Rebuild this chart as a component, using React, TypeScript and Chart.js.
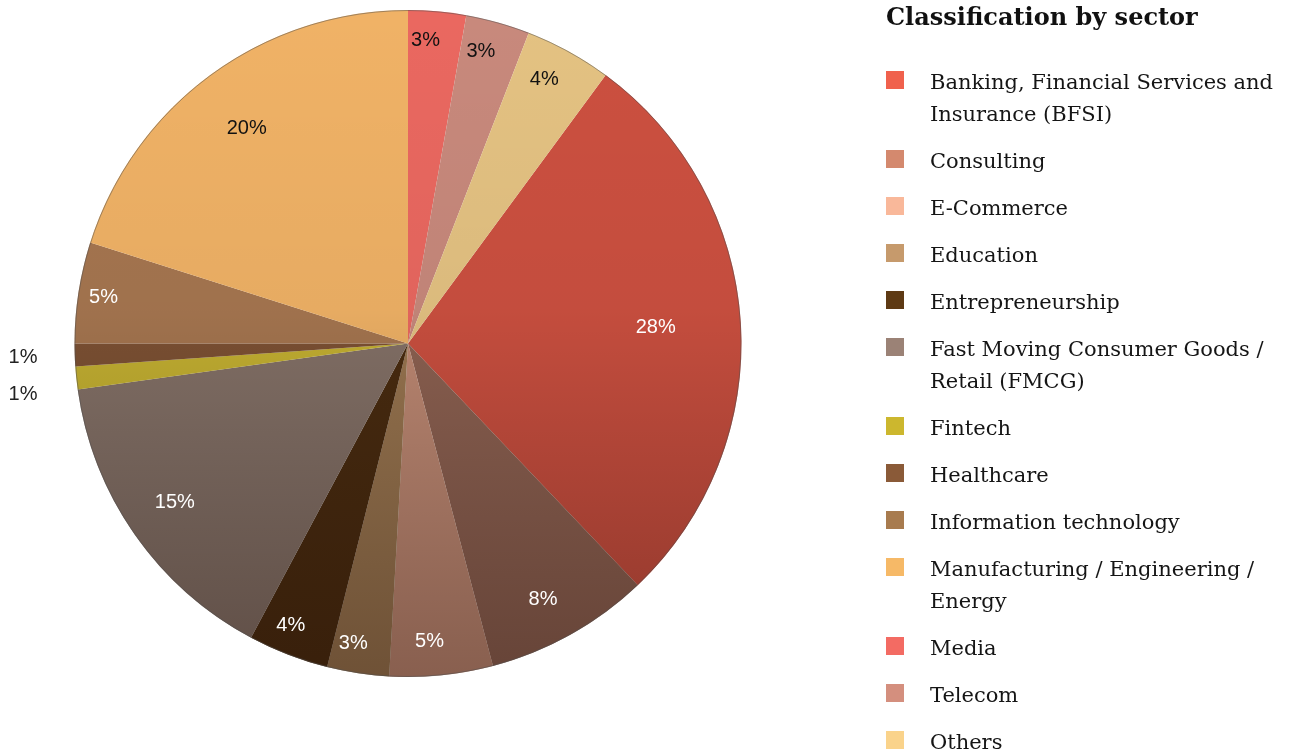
import React, { useEffect, useRef } from "react";
import { Chart, registerables } from "chart.js";

Chart.register(...registerables);

const legendTitle = "Classification by sector";

const sectors = [
  "Banking, Financial Services and Insurance (BFSI)",
  "Consulting",
  "E-Commerce",
  "Education",
  "Entrepreneurship",
  "Fast Moving Consumer Goods / Retail (FMCG)",
  "Fintech",
  "Healthcare",
  "Information technology",
  "Manufacturing / Engineering / Energy",
  "Media",
  "Telecom",
  "Others",
];

// share of respondents, %
const shares = [27.8, 8.0, 5.0, 3.0, 3.9, 15.0, 1.1, 1.1, 4.9, 20.1, 2.8, 3.1, 4.2];

// sectors drawn before BFSI when going clockwise from 12 o'clock
const leadingSectors = ["Media", "Telecom", "Others"];

const legendColors = [
  "#f0614d", "#d4896e", "#f9b89a", "#c69a6c", "#5e3a14", "#9b8276", "#ccb72e",
  "#8a5a38", "#a87b4e", "#f6b967", "#f36b63", "#d48f7e", "#fad38b",
];

const sliceColors = [
  "#cc5040", "#8e6252", "#c08a74", "#9a7650", "#4a2c10", "#857268", "#c6b232",
  "#7e5234", "#a67650", "#f0b266", "#ea6860", "#c8897c", "#e4c282",
];

const total = shares.reduce((a, b) => a + b, 0);
const leadShare = sectors.reduce(
  (acc, s, i) => (leadingSectors.includes(s) ? acc + shares[i] : acc),
  0
);

function shadeAlpha(frac: number) {
  if (frac <= 0) return 0;
  if (frac <= 0.45) return (frac / 0.45) * 0.04;
  return 0.04 + ((Math.min(frac, 1) - 0.45) / 0.55) * 0.28;
}

function hexRgb(h: string) {
  const n = parseInt(h.slice(1), 16);
  return [(n >> 16) & 255, (n >> 8) & 255, n & 255];
}

const slicePlugin = {
  id: "sliceDecor",
  afterDatasetsDraw(chart: any) {
    const ctx = chart.ctx as CanvasRenderingContext2D;
    const meta = chart.getDatasetMeta(0);
    if (!meta.data.length) return;
    const { x: cx, y: cy, outerRadius: r } = meta.data[0].getProps(
      ["x", "y", "outerRadius"],
      true
    );

    // shading over the pie
    ctx.save();
    ctx.beginPath();
    ctx.arc(cx, cy, r, 0, Math.PI * 2);
    ctx.clip();
    const g = ctx.createLinearGradient(0, cy - r, 0, cy + r);
    g.addColorStop(0, "rgba(0,0,0,0)");
    g.addColorStop(0.45, "rgba(0,0,0,0.04)");
    g.addColorStop(1, "rgba(20,5,0,0.32)");
    ctx.fillStyle = g;
    ctx.fillRect(cx - r, cy - r, 2 * r, 2 * r);
    ctx.restore();

    // thin rim
    ctx.save();
    ctx.beginPath();
    ctx.arc(cx, cy, r - 0.5, 0, Math.PI * 2);
    ctx.strokeStyle = "rgba(80,80,80,0.5)";
    ctx.lineWidth = 1;
    ctx.stroke();
    ctx.restore();

    // percentage labels
    ctx.save();
    ctx.font = '20px "Liberation Sans", Arial, sans-serif';
    ctx.textBaseline = "middle";
    const outside: { y: number; text: string }[] = [];
    meta.data.forEach((arc: any, i: number) => {
      const { startAngle, endAngle } = arc.getProps(["startAngle", "endAngle"], true);
      const frac = shares[i] / total;
      const text = Math.round(frac * 100) + "%";
      const mid = (startAngle + endAngle) / 2;
      if (frac < 0.02) {
        outside.push({ y: cy + Math.sin(mid) * r, text });
        return;
      }
      const d = r * (0.93 - 0.65 * frac);
      const shift = -10 * Math.max(0, 1 - 3 * frac);
      const x = cx + Math.cos(mid) * d + shift;
      const y = cy + Math.sin(mid) * d;
      const [R, G, B] = hexRgb(sliceColors[i]);
      const k = 1 - shadeAlpha((y - (cy - r)) / (2 * r));
      const lum = (0.299 * R + 0.587 * G + 0.114 * B) * k;
      ctx.fillStyle = lum > 135 ? "#111111" : "#ffffff";
      ctx.textAlign = "center";
      ctx.fillText(text, x, y);
    });
    outside.sort((a, b) => a.y - b.y);
    let last = -Infinity;
    ctx.fillStyle = "#222222";
    ctx.textAlign = "right";
    outside.forEach((o) => {
      const y = Math.max(o.y + 2, last + 37);
      last = y;
      ctx.fillText(o.text, cx - r - 37, y);
    });
    ctx.restore();
  },
};

export default function App() {
  const ref = useRef<HTMLCanvasElement | null>(null);

  useEffect(() => {
    if (!ref.current) return;
    const chart = new Chart(ref.current, {
      type: "pie",
      data: {
        labels: sectors,
        datasets: [
          {
            data: shares,
            backgroundColor: sliceColors,
            borderWidth: 0,
            hoverOffset: 0,
          },
        ],
      },
      options: {
        animation: false,
        responsive: false,
        events: [],
        rotation: (leadShare / total) * 360,
        layout: { padding: { top: 10, bottom: 76, left: 0, right: 476 } },
        plugins: {
          legend: { display: false },
          tooltip: { enabled: false },
        },
      },
      plugins: [slicePlugin],
    });
    return () => chart.destroy();
  }, []);

  return (
    <div
      style={{
        position: "absolute",
        left: 0,
        top: 0,
        width: 1292,
        height: 753,
        background: "#ffffff",
        overflow: "hidden",
      }}
    >
      <canvas
        ref={ref}
        width={1292}
        height={753}
        style={{ position: "absolute", left: 0, top: 0, width: 1292, height: 753 }}
      />
      <div
        style={{
          position: "absolute",
          left: 886,
          top: 2,
          fontFamily: '"DejaVu Serif", serif',
          fontWeight: 700,
          fontSize: 24,
          lineHeight: "30px",
          color: "#111",
          whiteSpace: "nowrap",
        }}
      >
        {legendTitle}
      </div>
      <div
        style={{
          position: "absolute",
          left: 886,
          top: 66,
          width: 406,
          fontFamily: '"DejaVu Serif", serif',
          fontSize: 21,
          lineHeight: "32px",
          color: "#151515",
        }}
      >
        {sectors.map((s, i) => (
          <div key={s} style={{ display: "flex", alignItems: "flex-start", marginBottom: 15 }}>
            <div
              style={{
                width: 18,
                height: 18,
                marginTop: 5,
                flex: "0 0 18px",
                background: legendColors[i],
              }}
            />
            <div style={{ marginLeft: 26, width: 362 }}>{s}</div>
          </div>
        ))}
      </div>
    </div>
  );
}
